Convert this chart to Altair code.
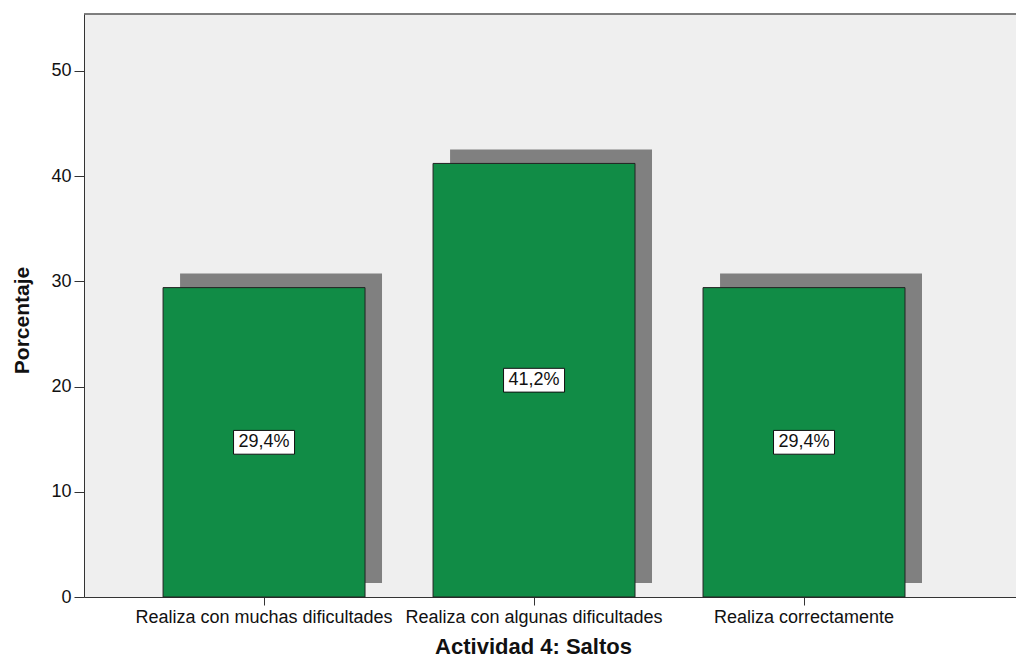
import altair as alt
import pandas as pd

# Datos de la actividad
categorias = [
    "Realiza con muchas dificultades",
    "Realiza con algunas dificultades",
    "Realiza correctamente",
]
porcentajes = [29.4, 41.2, 29.4]
etiquetas = ["29,4%", "41,2%", "29,4%"]

df = pd.DataFrame({
    "cat": categorias,
    "pct": porcentajes,
    "mid": [p / 2 for p in porcentajes],
    "lab": etiquetas,
})

FONT = "Liberation Sans"

x_enc = alt.X(
    "cat:N",
    sort=categorias,
    scale=alt.Scale(domain=categorias, paddingInner=0.252, paddingOuter=0.352, align=0.416),
    axis=alt.Axis(
        title="Actividad 4: Saltos",
        labelAngle=0,
        labelFont=FONT,
        labelFontSize=18,
        labelColor="#111",
        labelLimit=0,
        labelBaseline="alphabetic",
        labelPadding=17,
        tickSize=8,
        tickColor="#333",
        domainColor="#333",
        titleFont=FONT,
        titleFontSize=22,
        titleFontWeight="bold",
        titleColor="#111",
        titleX=449,
        titleY=56,
        titleBaseline="alphabetic",
        titleAlign="center",
    ),
)

y_scale = alt.Scale(domain=[0, 55.4], nice=False, zero=True)
y_axis = alt.Axis(
    title="Porcentaje",
    values=[0, 10, 20, 30, 40, 50],
    grid=False,
    labelFont=FONT,
    labelFontSize=18,
    labelColor="#111",
    labelPadding=3,
    tickSize=10,
    tickColor="#333",
    domainColor="#333",
    titleFont=FONT,
    titleFontSize=21,
    titleFontWeight="bold",
    titleColor="#111",
    titleX=-62,
    titleY=306,
    titleAngle=270,
    titleBaseline="middle",
    titleAlign="center",
)

base = alt.Chart(df)

# sombra desplazada detrás de cada barra
sombra = base.mark_bar(
    color="#808080", xOffset=17, x2Offset=17, yOffset=-14, y2Offset=-14
).encode(
    x=x_enc,
    y=alt.Y("pct:Q", scale=y_scale, axis=y_axis),
)

barras = base.mark_bar(
    color="#118c46", stroke="#222", strokeWidth=1
).encode(
    x=x_enc,
    y=alt.Y("pct:Q", scale=y_scale, axis=y_axis),
)

caja = base.mark_point(
    shape="M-1,-0.39L1,-0.39L1,0.39L-1,0.39Z",
    size=3721,
    filled=True,
    fill="white",
    stroke="#111",
    strokeWidth=1,
    opacity=1,
).encode(
    x=alt.X("cat:N", sort=categorias),
    y=alt.Y("mid:Q"),
)

texto = base.mark_text(
    font=FONT, fontSize=18, color="#111", baseline="middle", align="center"
).encode(
    x=alt.X("cat:N", sort=categorias),
    y=alt.Y("mid:Q"),
    text="lab:N",
)

# borde superior del área de trazado
borde = alt.Chart(pd.DataFrame({"k": [0]})).mark_rule(
    color="#555", strokeWidth=1.5
).encode(
    x=alt.value(0),
    x2=alt.value(932),
    y=alt.value(0),
)

chart = (
    alt.layer(sombra, barras, caja, texto, borde)
    .properties(
        width=932,
        height=583,
        autosize=alt.AutoSizeParams(type="none"),
        padding={"left": 84, "top": 14, "right": 0, "bottom": 62},
        background="white",
    )
    .configure_view(fill="#efefef", strokeOpacity=0)
)

chart.save("out.html", embed_options={"renderer": "svg", "actions": False})
